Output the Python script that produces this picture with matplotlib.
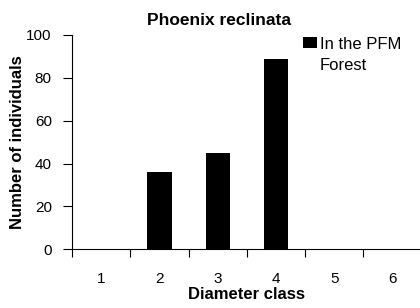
import matplotlib
matplotlib.use('Agg')
import matplotlib.pyplot as plt

classes = ['1', '2', '3', '4', '5', '6']
counts = [0, 36, 45, 89, 0, 0]
series_name = 'In the PFM\nForest'

plt.rcParams['font.family'] = ['Liberation Sans', 'DejaVu Sans']

fig = plt.figure(figsize=(4.2, 3.08), dpi=100)
ax = fig.add_axes([72 / 420, 58.7 / 308, 349.8 / 420, 214.3 / 308])

x = range(1, len(classes) + 1)
ax.bar(x, counts, width=0.42, color='black', label=series_name)

ax.set_xlim(0.5, 6.5)
ax.set_ylim(0, 100)
ax.set_yticks([0, 20, 40, 60, 80, 100])
# ticks sit between classes, labels in the middle
ax.set_xticks([i + 0.5 for i in range(0, 6)])
ax.set_xticklabels([])
ax.set_xticks(list(x), minor=True)
ax.set_xticklabels(classes, minor=True)
ax.tick_params(axis='x', which='major', direction='out', length=5.5, width=0.8)
ax.tick_params(axis='x', which='minor', length=0, pad=16, labelsize=11)
ax.tick_params(axis='y', direction='out', length=6.5, width=0.8, labelsize=11, pad=8)

for s in ['top', 'right']:
    ax.spines[s].set_visible(False)
for s in ['left', 'bottom']:
    ax.spines[s].set_linewidth(0.8)

ax.set_title('Phoenix reclinata', fontsize=12.5, fontweight='bold', pad=7,
             x=(219 - 72) / 349.8)
ax.set_xlabel('Diameter class', fontsize=12, fontweight='bold', labelpad=1)
ax.set_ylabel('Number of individuals', fontsize=12, fontweight='bold', labelpad=1)

leg = ax.legend(loc='upper left', bbox_to_anchor=(303 / 420, (308 - 37) / 308),
                bbox_transform=fig.transFigure, frameon=False, fontsize=12,
                handlelength=0.85, handleheight=0.65, handletextpad=0.15,
                borderaxespad=0, borderpad=0)
leg.get_texts()[0].set_linespacing(1.5)
# put the square next to the first line, not the middle of the label
for col in leg._legend_handle_box.get_children():
    for entry in col.get_children():
        entry.align = 'top'

fig.savefig('out.png', dpi=100)
